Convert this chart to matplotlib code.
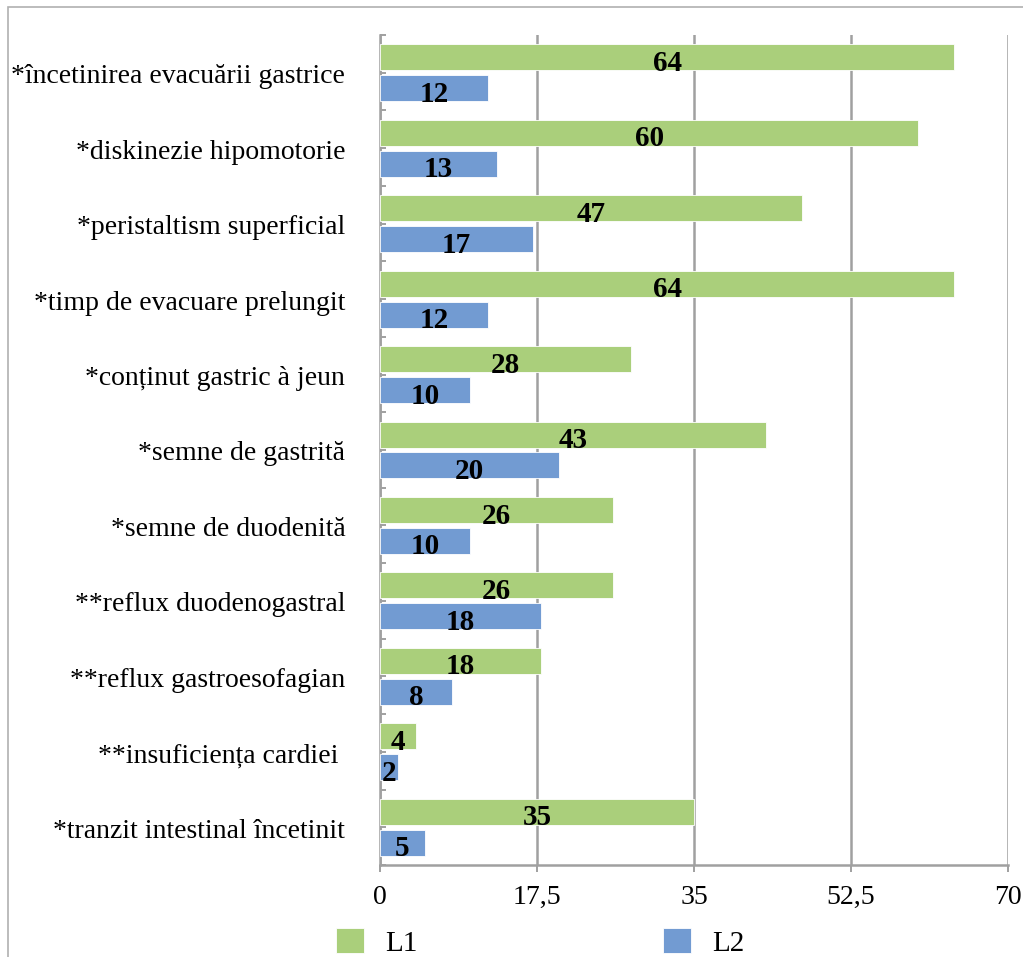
import matplotlib
matplotlib.use("Agg")
import matplotlib.pyplot as plt
import matplotlib.transforms as mtransforms
from matplotlib.patches import Patch, Rectangle
import numpy as np

# Findings grouped by category, listed top to bottom
categories = [
    "*încetinirea evacuării gastrice",
    "*diskinezie hipomotorie",
    "*peristaltism superficial",
    "*timp de evacuare prelungit",
    "*conținut gastric à jeun",
    "*semne de gastrită",
    "*semne de duodenită",
    "**reflux duodenogastral",
    "**reflux gastroesofagian",
    "**insuficiența cardiei ",
    "*tranzit intestinal încetinit",
]
l1_values = [64, 60, 47, 64, 28, 43, 26, 26, 18, 4, 35]
l2_values = [12, 13, 17, 12, 10, 20, 10, 18, 8, 2, 5]
series_names = ["L1", "L2"]
x_ticks = [0, 17.5, 35, 52.5, 70]
x_tick_labels = ["0", "17,5", "35", "52,5", "70"]

GREEN = "#AACF7B"
BLUE = "#729BD2"
GRID = "#A0A0A0"

plt.rcParams["font.family"] = ["Liberation Serif", "DejaVu Serif"]

W, H = 1023, 957
fig = plt.figure(figsize=(W / 100, H / 100), dpi=100)
ax = fig.add_axes([380 / W, 1 - 865 / H, (1008 - 380) / W, (865 - 35) / H])

y = np.arange(len(categories))
bar_h = 0.345
off = 0.205

bars1 = ax.barh(y - off, l1_values, height=bar_h, color=GREEN,
                edgecolor="white", linewidth=0.6, zorder=3)
bars2 = ax.barh(y + off, l2_values, height=bar_h, color=BLUE,
                edgecolor="white", linewidth=0.6, zorder=3)

for bars, vals in ((bars1, l1_values), (bars2, l2_values)):
    for b, v in zip(bars, vals):
        ax.text(b.get_x() + b.get_width() / 2, b.get_y() + b.get_height() / 2 + 0.08,
                f"{v}", ha="center", va="center", fontsize=21,
                fontweight="bold", color="black", zorder=4)

ax.set_xlim(0, 70)
ax.set_ylim(len(categories) - 0.5, -0.5)

ax.set_xticks(x_ticks)
ax.set_xticklabels(x_tick_labels, fontsize=20, va="baseline")
ax.set_yticks(y)
ax.set_yticklabels(categories, fontsize=20, va="center")
ax.set_yticks(np.arange(len(categories) + 1) - 0.5, minor=True)

ax.tick_params(axis="x", direction="out", length=5, width=1.4, color=GRID, pad=23)
ax.tick_params(axis="y", which="both", direction="in", length=4, width=1.4,
               color=GRID, pad=25)

# nudge category labels slightly downward
shift = mtransforms.ScaledTranslation(0, -4 / 100, fig.dpi_scale_trans)
for lbl in ax.get_yticklabels():
    lbl.set_transform(lbl.get_transform() + shift)

ax.grid(axis="x", color=GRID, linewidth=1.8, zorder=0)
ax.set_axisbelow(True)

for side in ("top", "right"):
    ax.spines[side].set_visible(False)
for side in ("left", "bottom"):
    ax.spines[side].set_color(GRID)
    ax.spines[side].set_linewidth(1.8)

handles = [Patch(facecolor=GREEN, edgecolor="white", linewidth=0.6),
           Patch(facecolor=BLUE, edgecolor="white", linewidth=0.6)]
fig.legend(handles, series_names, loc="upper left",
           bbox_to_anchor=(336 / W, 1 - 928 / H), ncol=2, frameon=False,
           fontsize=21, handlelength=0.95, handleheight=0.95,
           handletextpad=0.75, columnspacing=8.4, borderpad=0,
           borderaxespad=0)

# Outer chart border
fig.patches.append(Rectangle((8 / W, -0.1), 1.2, 1.1 - 7 / H,
                             transform=fig.transFigure, fill=False,
                             edgecolor="#B0B0B0", linewidth=1.2))

fig.savefig("out.png", dpi=100)
